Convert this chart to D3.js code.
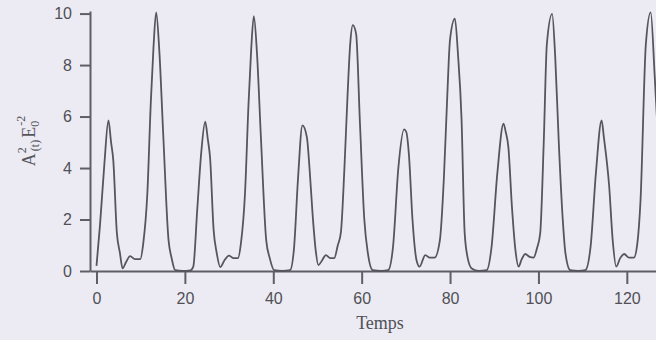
<!DOCTYPE html>
<html>
<head>
<meta charset="utf-8">
<script src="https://cdn.jsdelivr.net/npm/d3@7"></script>
<style>
  body { margin: 0; background: #ecebf3; }
  svg { display: block; }
  .axis path, .axis line { stroke: #5e5e64; stroke-width: 2; }
  .axis text { font-family: "Liberation Sans", Arial, sans-serif; font-size: 16px; fill: #505056; }
</style>
</head>
<body>
<svg id="chart" width="656" height="340"></svg>
<script>
// time values
const times = [
    0, 0.8, 1.8, 2.7, 3.3, 3.8, 4.6, 5.3, 5.9, 6.7, 7.6, 8.7, 9.9, 10.6, 11.5, 12.3, 12.9, 13.5, 14.2, 15.1, 16.3, 17.0, 17.8,
    19.5, 21.2, 21.9, 22.8, 23.7, 24.6, 25.2, 25.7, 26.5, 27.2, 28.0, 28.9, 30.0, 31.0, 32.0, 32.7, 33.6, 34.4, 35.0, 35.6, 36.3, 37.2, 38.4, 39.2, 40.2,
    42.0, 43.8, 44.7, 45.6, 46.6, 47.6, 48.2, 48.9, 49.6, 50.2, 51.0, 51.9, 52.9, 53.8, 54.6, 55.3, 56.1, 56.8, 57.4, 58.0, 58.75, 59.6, 60.6, 61.4, 62.5,
    64.5, 66.0, 67.1, 68.3, 69.6, 70.1, 70.7, 71.5, 72.4, 73.1, 74.4, 75.4, 76.5, 77.7, 78.6, 79.3, 80.0, 81.1, 81.8, 82.6, 83.3, 84.0, 84.9,
    86.5, 88.3, 89.4, 90.7, 92.1, 92.6, 93.2, 94.0, 94.8, 95.5, 96.2, 97.0, 98.0, 98.9, 99.7, 100.4, 101.2, 101.9, 103.1, 103.8, 104.6, 105.5, 106.1, 107.2,
    109.0, 110.6, 111.8, 113.0, 114.3, 114.8, 116.0, 116.8, 117.6, 118.5, 119.4, 120.5, 121.6, 122.4, 123.1, 124.3, 125.4, 126.3, 127.2
];
// A²(t) E0^-2 at each time
const amplitude = [
    0.2, 1.8, 4.2, 5.85, 5.0, 4.3, 1.5, 0.7, 0.1, 0.35, 0.58, 0.46, 0.46, 1.1, 3.0, 6.6, 8.7, 10.05, 8.6, 5.3, 1.2, 0.5, 0.03,
    0, 0.02, 0.17, 2.4, 4.6, 5.8, 5.1, 4.4, 1.6, 0.7, 0.15, 0.4, 0.6, 0.5, 0.5, 1.1, 3.0, 6.5, 8.6, 9.9, 8.5, 5.2, 1.2, 0.5, 0.03,
    0, 0.03, 0.9, 3.6, 5.66, 5.2, 4.0, 2.2, 0.8, 0.23, 0.4, 0.62, 0.5, 0.5, 1.0, 1.5, 4.0, 6.8, 8.8, 9.55, 9.2, 5.8, 2.0, 0.7, 0.03,
    0, 0.03, 0.95, 4.0, 5.5, 5.4, 4.5, 2.0, 0.43, 0.17, 0.62, 0.52, 0.52, 1.2, 3.6, 6.5, 9.0, 9.8, 8.4, 5.9, 1.5, 0.5, 0.1,
    0, 0.03, 0.95, 3.8, 5.72, 5.4, 4.8, 2.5, 0.8, 0.17, 0.45, 0.66, 0.55, 0.52, 0.9, 1.47, 5.0, 8.8, 9.99, 8.3, 5.0, 2.0, 0.7, 0.03,
    0, 0.03, 0.95, 3.8, 5.85, 5.2, 3.3, 1.2, 0.17, 0.5, 0.66, 0.52, 0.52, 1.1, 2.75, 8.8, 10.05, 7.6, 4.7
];
const xTicks = [0, 20, 40, 60, 80, 100, 120];
const yTicks = [0, 2, 4, 6, 8, 10];

const svg = d3.select("#chart");

const x = d3.scaleLinear().domain([-1.47, 126.6]).range([90, 656]);
const y = d3.scaleLinear().domain([0, 10.1]).range([271, 11]);

svg.append("g")
    .attr("class", "axis")
    .attr("transform", "translate(0,271)")
    .call(d3.axisBottom(x).tickValues(xTicks).tickSize(13).tickSizeOuter(0).tickPadding(9));

svg.append("g")
    .attr("class", "axis")
    .attr("transform", "translate(90,0)")
    .call(d3.axisLeft(y).tickValues(yTicks).tickSize(10).tickSizeOuter(0).tickPadding(8));

svg.append("path")
    .datum(times.map((t, i) => [t, amplitude[i]]))
    .attr("fill", "none")
    .attr("stroke", "#55555c")
    .attr("stroke-width", 1.8)
    .attr("stroke-linejoin", "round")
    .attr("d", d3.line().x(d => x(d[0])).y(d => y(d[1])).curve(d3.curveMonotoneX));

// axis titles
svg.append("text")
    .attr("x", 380)
    .attr("y", 329)
    .attr("text-anchor", "middle")
    .style("font-family", "'Liberation Serif', 'Times New Roman', serif")
    .style("font-size", "18px")
    .style("fill", "#505056")
    .text("Temps");

const yl = svg.append("text")
    .attr("transform", "translate(35,141) rotate(-90)")
    .attr("text-anchor", "middle")
    .style("font-family", "'Liberation Serif', 'Times New Roman', serif")
    .style("font-size", "18px")
    .style("fill", "#55555c");
yl.append("tspan").text("A");
yl.append("tspan").attr("dy", -9).style("font-size", "12px").text("2");
yl.append("tspan").attr("dx", -4).attr("dy", 13).style("font-size", "12px").text("(t)");
yl.append("tspan").attr("dx", 2).attr("dy", -4).text("E");
yl.append("tspan").attr("dy", 4).style("font-size", "12px").text("0");
yl.append("tspan").attr("dx", -5).attr("dy", -14).style("font-size", "12px").text("-2");
</script>
</body>
</html>
